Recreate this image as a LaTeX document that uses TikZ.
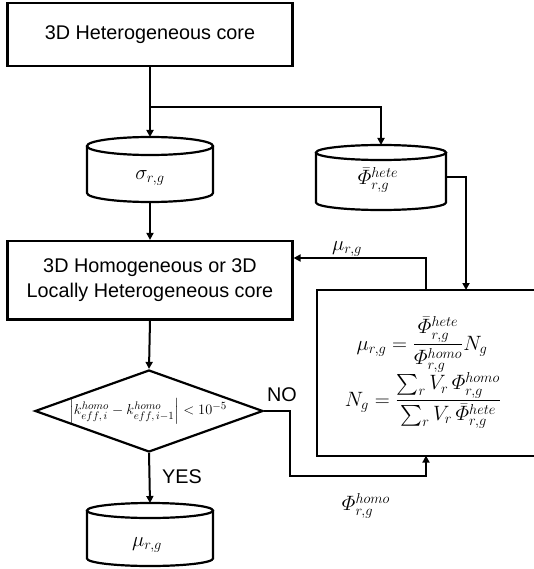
\documentclass[tikz,border=0pt]{standalone}
\usepackage{amsmath}
\usepackage{fontspec}
\setmainfont{Liberation Sans}
\usetikzlibrary{shapes.geometric,arrows.meta,calc}
\begin{document}
\begin{tikzpicture}[x=1pt,y=-1pt,
  txt/.style={font=\fontsize{19.8}{24.3}\selectfont},
  box/.style={draw, line width=2.2pt, rectangle, inner sep=0pt, align=center, txt},
  arr/.style={line width=2pt, -{Triangle[length=7pt,width=7pt]}},
  ln/.style={line width=2pt},
  shp/.style={line width=2.2pt},
  mth/.style={font=\fontsize{20}{24}\selectfont, inner sep=0pt},
  ghost/.style={inner sep=0pt, outer sep=0pt}
]
\useasboundingbox (0,0) rectangle (534,569);
\fill[white] (0,0) rectangle (534,569);

% top box
\node[box, minimum width=285pt, minimum height=63.5pt] (tb) at (150,34.5) {3D Heterogeneous core};

% left cylinder
\node[ghost, minimum width=126pt, minimum height=65pt] (c1) at (150,169.5) {};
\draw[shp] (87,146) -- (87,193) arc[start angle=180,end angle=360,x radius=63pt,y radius=9pt] -- (213,146);
\draw[shp] (150,146) ellipse[x radius=63pt, y radius=9pt];
\node[mth] (c1t) at (150,178) {$\sigma_{r,g}$};

% right cylinder
\node[ghost, minimum width=130pt, minimum height=65pt] (c2) at (381,177.5) {};
\draw[shp] (316,152.5) -- (316,202.5) arc[start angle=180,end angle=360,x radius=65pt,y radius=7.5pt] -- (446,152.5);
\draw[shp] (381,152.5) ellipse[x radius=65pt, y radius=7.5pt];
\node[mth] (c2t) at (378,180) {$\bar{\varPhi}^{hete}_{r,g}$};

% middle box
\node[box, minimum width=285pt, minimum height=78.4pt] (b2) at (150,280.2) {3D Homogeneous or 3D\\Locally Heterogeneous core};

% diamond
\node[draw, line width=2.2pt, diamond, aspect=2.78, minimum width=228pt, minimum height=82pt, inner sep=0pt] (d) at (149,411) {};
\node[inner sep=0pt, font=\fontsize{15.5}{18}\selectfont] (dt) at (148,411) {$\left|k^{homo}_{eff,\,i}-k^{homo}_{eff,\,i-1}\right|<10^{-5}$};

% bottom cylinder
\node[ghost, minimum width=126pt, minimum height=63pt] (c3) at (150,534.5) {};
\draw[shp] (87,510.5) -- (87,558.5) arc[start angle=180,end angle=360,x radius=63pt,y radius=7.5pt] -- (213,510.5);
\draw[shp] (150,510.5) ellipse[x radius=63pt, y radius=7.5pt];
\node[mth] (c3t) at (147,545) {$\mu_{r,g}$};

% right box
\node[draw, line width=2.2pt, ghost, minimum width=243.3pt, minimum height=165.6pt] (rb) at (438.35,372.8) {};
\node[mth, anchor=base] (eq1) at (422,350) {$\mu_{r,g}=\dfrac{\bar{\varPhi}^{hete}_{r,g}}{\varPhi^{homo}_{r,g}}N_g$};
\node[mth, anchor=base] (eq2) at (423,406) {$N_g=\dfrac{\sum_r V_r\,\varPhi^{homo}_{r,g}}{\sum_r V_r\,\bar{\varPhi}^{hete}_{r,g}}$};

% connectors
\coordinate (j) at (150,107);
\draw[ln] (tb.south) -- (j);
\draw[arr] (j) -- (c1.north);
\draw[arr] (j) -| (c2.north);
\draw[arr] (c1.south) -- (b2.north);
\coordinate (r1) at (466,177.5);
\draw[arr] (c2.east) -- (r1) -- (r1 |- rb.north);
\coordinate (fb) at (425.7,258);
\draw[arr] (fb |- rb.north) -- (fb) -- (fb -| b2.east);
\node[mth] (mulab) at (347,249) {$\mu_{r,g}$};
\draw[arr] (b2.south) -- (d.north);
\coordinate (n1) at (289.5,476);
\coordinate (n2) at (426,476);
\draw[arr] (d.east) -| (n1) -- (n2) -- (n2 |- rb.south);
\node[txt, inner sep=0pt] (nolab) at (282,395) {NO};
\node[mth] (philab) at (366,506) {$\varPhi^{homo}_{r,g}$};
\draw[arr] (d.south) -- (c3.north);
\node[txt, inner sep=0pt] (yes) at (182,477) {YES};
\end{tikzpicture}
\end{document}
